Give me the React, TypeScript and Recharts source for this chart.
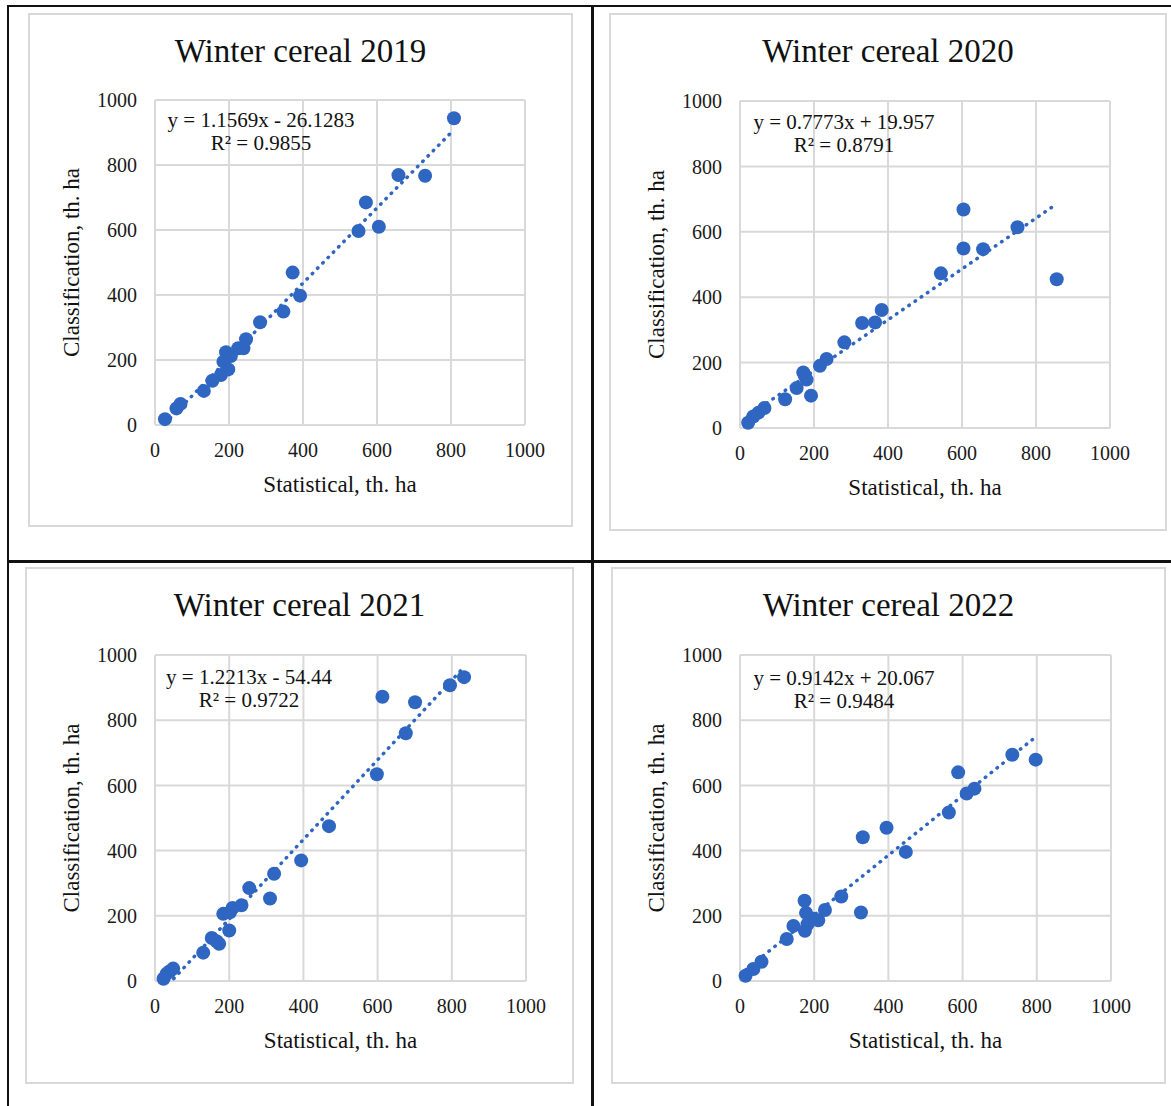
import React from "react";
import {
  ScatterChart,
  Scatter,
  XAxis,
  YAxis,
  CartesianGrid,
  ReferenceLine,
} from "recharts";

// Statistical (x) vs classification (y) areas, th. ha
const years = ["2019", "2020", "2021", "2022"];

const stat2019 = [27, 58, 69, 132, 155, 178, 198, 185, 192, 205, 225, 239, 246, 284, 347, 372, 392, 550, 570, 605, 658, 730, 808];
const class2019 = [18, 51, 65, 105, 136, 154, 171, 195, 224, 212, 236, 236, 264, 316, 349, 469, 398, 597, 685, 610, 769, 767, 944];

const stat2020 = [22, 36, 50, 66, 122, 153, 192, 171, 180, 175, 216, 234, 282, 330, 365, 383, 543, 604, 604, 657, 750, 856];
const class2020 = [16, 35, 47, 61, 88, 122, 99, 170, 148, 160, 190, 211, 262, 321, 323, 361, 473, 668, 549, 547, 614, 455];

const stat2021 = [23, 31, 40, 49, 130, 153, 166, 173, 200, 184, 202, 209, 233, 254, 310, 321, 394, 469, 598, 613, 676, 701, 795, 833];
const class2021 = [7, 22, 30, 38, 87, 132, 122, 114, 155, 206, 211, 224, 232, 285, 253, 329, 370, 475, 634, 872, 760, 855, 907, 932];

const stat2022 = [15, 36, 58, 126, 144, 174, 175, 178, 193, 211, 182, 229, 273, 326, 331, 395, 447, 563, 588, 611, 632, 734, 797];
const class2022 = [16, 37, 59, 129, 169, 246, 154, 209, 192, 186, 174, 218, 259, 210, 441, 470, 396, 517, 640, 575, 590, 694, 679];

const statistical = [stat2019, stat2020, stat2021, stat2022];
const classification = [class2019, class2020, class2021, class2022];

// linear trendlines as printed on the chart
const slopes = [1.1569, 0.7773, 1.2213, 0.9142];
const intercepts = [-26.1283, 19.957, -54.44, 20.067];
const equations = [
  "y = 1.1569x - 26.1283",
  "y = 0.7773x + 19.957",
  "y = 1.2213x - 54.44",
  "y = 0.9142x + 20.067",
];
const rSquared = ["R² = 0.9855", "R² = 0.8791", "R² = 0.9722", "R² = 0.9484"];

const axisTicks = [0, 200, 400, 600, 800, 1000];

const SERIF = "'Times New Roman', 'Liberation Serif', serif";
const BLUE = "#2f66c2";
const GRID = "#d9d9d9";
const Y_AXIS_W = 100;
const X_AXIS_H = 70;

// page layout (absolute pixel positions)
const panels = [
  { frame: { x: 28, y: 13, w: 545, h: 514 }, plot: { left: 155, top: 100, right: 525, bottom: 425 }, eq: { x: 261, y: 120 } },
  { frame: { x: 609, y: 13, w: 558, h: 518 }, plot: { left: 740, top: 101, right: 1110, bottom: 428 }, eq: { x: 844, y: 122 } },
  { frame: { x: 25, y: 567, w: 549, h: 517 }, plot: { left: 155, top: 655, right: 526, bottom: 981 }, eq: { x: 249, y: 677 } },
  { frame: { x: 611, y: 567, w: 555, h: 517 }, plot: { left: 740, top: 655, right: 1111, bottom: 981 }, eq: { x: 844, y: 678 } },
];

const Dot = (props: any) => <circle cx={props.cx} cy={props.cy} r={7} fill={BLUE} />;

function Panel({ index }: { index: number }) {
  const { frame, plot, eq } = panels[index];
  const xs = statistical[index];
  const ys = classification[index];
  const data = xs.map((x, i) => ({ x, y: ys[i] }));

  const x0 = Math.min(...xs);
  const x1 = Math.max(...xs);
  const trend = [
    { x: x0, y: slopes[index] * x0 + intercepts[index] },
    { x: x1, y: slopes[index] * x1 + intercepts[index] },
  ];

  const margin = {
    left: plot.left - frame.x - Y_AXIS_W,
    top: plot.top - frame.y,
    right: frame.x + frame.w - plot.right,
    bottom: frame.y + frame.h - plot.bottom - X_AXIS_H,
  };

  const tick = { fontSize: 20, fill: "#1a1a1a", fontFamily: SERIF };

  return (
    <>
      <div
        style={{
          position: "absolute",
          left: frame.x,
          top: frame.y,
          width: frame.w,
          height: frame.h,
          border: `2px solid ${GRID}`,
          boxSizing: "border-box",
        }}
      />
      <div style={{ position: "absolute", left: frame.x, top: frame.y }}>
        <ScatterChart width={frame.w} height={frame.h} margin={margin}>
          <CartesianGrid stroke={GRID} strokeWidth={2} />
          <XAxis
            type="number"
            dataKey="x"
            domain={[0, 1000]}
            ticks={axisTicks}
            tick={tick}
            tickSize={0}
            tickMargin={18}
            axisLine={false}
            height={X_AXIS_H}
            label={{
              value: "Statistical, th. ha",
              position: "insideBottom",
              offset: 3,
              style: { fontSize: 23, fill: "#111", fontFamily: SERIF },
            }}
          />
          <YAxis
            type="number"
            dataKey="y"
            domain={[0, 1000]}
            ticks={axisTicks}
            tick={tick}
            tickSize={0}
            tickMargin={18}
            axisLine={false}
            width={Y_AXIS_W}
            label={{
              value: "Classification, th. ha",
              angle: -90,
              position: "insideLeft",
              offset: 16,
              style: { fontSize: 23, fill: "#111", fontFamily: SERIF, textAnchor: "middle" },
            }}
          />
          <ReferenceLine
            segment={trend}
            ifOverflow="hidden"
            stroke={BLUE}
            strokeWidth={3.5}
            strokeDasharray="0.5 7"
            strokeLinecap="round"
          />
          <Scatter data={data} shape={Dot} isAnimationActive={false} />
        </ScatterChart>
      </div>
      <div
        style={{
          position: "absolute",
          left: frame.x,
          width: frame.w,
          top: frame.y + 38 - 16.5,
          fontSize: 33,
          lineHeight: "33px",
          textAlign: "center",
          fontFamily: SERIF,
          color: "#111",
          whiteSpace: "nowrap",
        }}
      >
        Winter cereal {years[index]}
      </div>
      <div
        style={{
          position: "absolute",
          left: eq.x - 150,
          width: 300,
          top: eq.y - 11.5,
          fontSize: 21,
          lineHeight: "23px",
          textAlign: "center",
          fontFamily: SERIF,
          color: "#111",
          whiteSpace: "nowrap",
        }}
      >
        <div>{equations[index]}</div>
        <div>{rSquared[index]}</div>
      </div>
    </>
  );
}

const rule = (left: number, top: number, width: number, height: number) => (
  <div style={{ position: "absolute", left, top, width, height, background: "#111" }} />
);

export default function App() {
  return (
    <div
      style={{
        position: "absolute",
        left: 0,
        top: 0,
        width: 1171,
        height: 1106,
        overflow: "hidden",
        background: "#fff",
      }}
    >
      {rule(7, 5, 1164, 2)}
      {rule(7, 5, 2, 1101)}
      {rule(591, 5, 2.5, 1101)}
      {rule(7, 560, 1164, 2.5)}
      {panels.map((_, i) => (
        <Panel key={i} index={i} />
      ))}
    </div>
  );
}
